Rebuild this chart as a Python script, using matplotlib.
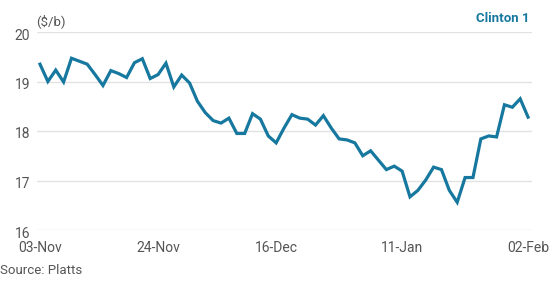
import matplotlib
matplotlib.use('Agg')
import matplotlib.pyplot as plt
from matplotlib.transforms import ScaledTranslation

# Clinton 1 price, $/b, one value per trading day
prices = [
    19.35, 19.00, 19.23, 18.99, 19.47, 19.41, 19.35, 19.14, 18.92, 19.22,
    19.16, 19.08, 19.38, 19.46, 19.06, 19.14, 19.37, 18.89, 19.13, 18.97,
    18.60, 18.37, 18.21, 18.16, 18.26, 17.95, 17.95, 18.35, 18.24, 17.90,
    17.76, 18.06, 18.33, 18.26, 18.24, 18.12, 18.31, 18.06, 17.84, 17.82,
    17.76, 17.50, 17.60, 17.41, 17.22, 17.29, 17.19, 16.67, 16.80, 17.01,
    17.27, 17.22, 16.80, 16.56, 17.06, 17.06, 17.84, 17.90, 17.88, 18.53,
    18.48, 18.65, 18.28,
]
tick_pos = [0, 15, 30, 46, 62]
tick_labels = ['03-Nov', '24-Nov', '16-Dec', '11-Jan', '02-Feb']
y_ticks = [16, 17, 18, 19, 20]

line_color = '#17789f'
text_color = '#555555'

plt.rcParams['font.family'] = ['Roboto', 'DejaVu Sans']

fig = plt.figure(figsize=(5.54, 2.82), dpi=100)
ax = fig.add_axes([37 / 554, 52 / 282, 495 / 554, 198 / 282])

ax.plot(range(len(prices)), prices, color=line_color, lw=2.3,
        solid_joinstyle='miter', clip_on=False, zorder=3)

ax.set_xlim(-0.38, 62.5)
ax.set_ylim(16, 20)
ax.set_yticks(y_ticks)
ax.set_xticks(tick_pos)
ax.set_xticklabels(tick_labels)
ax.tick_params(axis='x', length=0, pad=8, labelsize=10, labelcolor=text_color)
ax.tick_params(axis='y', length=0, pad=5, labelsize=10, labelcolor=text_color)
# nudge y labels a little below their gridline
shift = ScaledTranslation(0, -2 / 100, fig.dpi_scale_trans)
for lbl in ax.get_yticklabels():
    lbl.set_transform(lbl.get_transform() + shift)

ax.grid(axis='y', color='#e2e2e2', lw=1)
ax.set_axisbelow(True)
for s in ax.spines.values():
    s.set_visible(False)

fig.text(36 / 554, 1 - 21 / 282, '($/b)', fontsize=9.5, color=text_color,
         va='center', ha='left')
fig.text(530 / 554, 1 - 19 / 282, 'Clinton 1', fontsize=9.5, color=line_color,
         fontweight='bold', va='center', ha='right')
fig.text(0.5 / 554, 1 - 270 / 282, 'Source: Platts', fontsize=9.5,
         color=text_color, va='center', ha='left')

fig.savefig('out.png', dpi=100)
